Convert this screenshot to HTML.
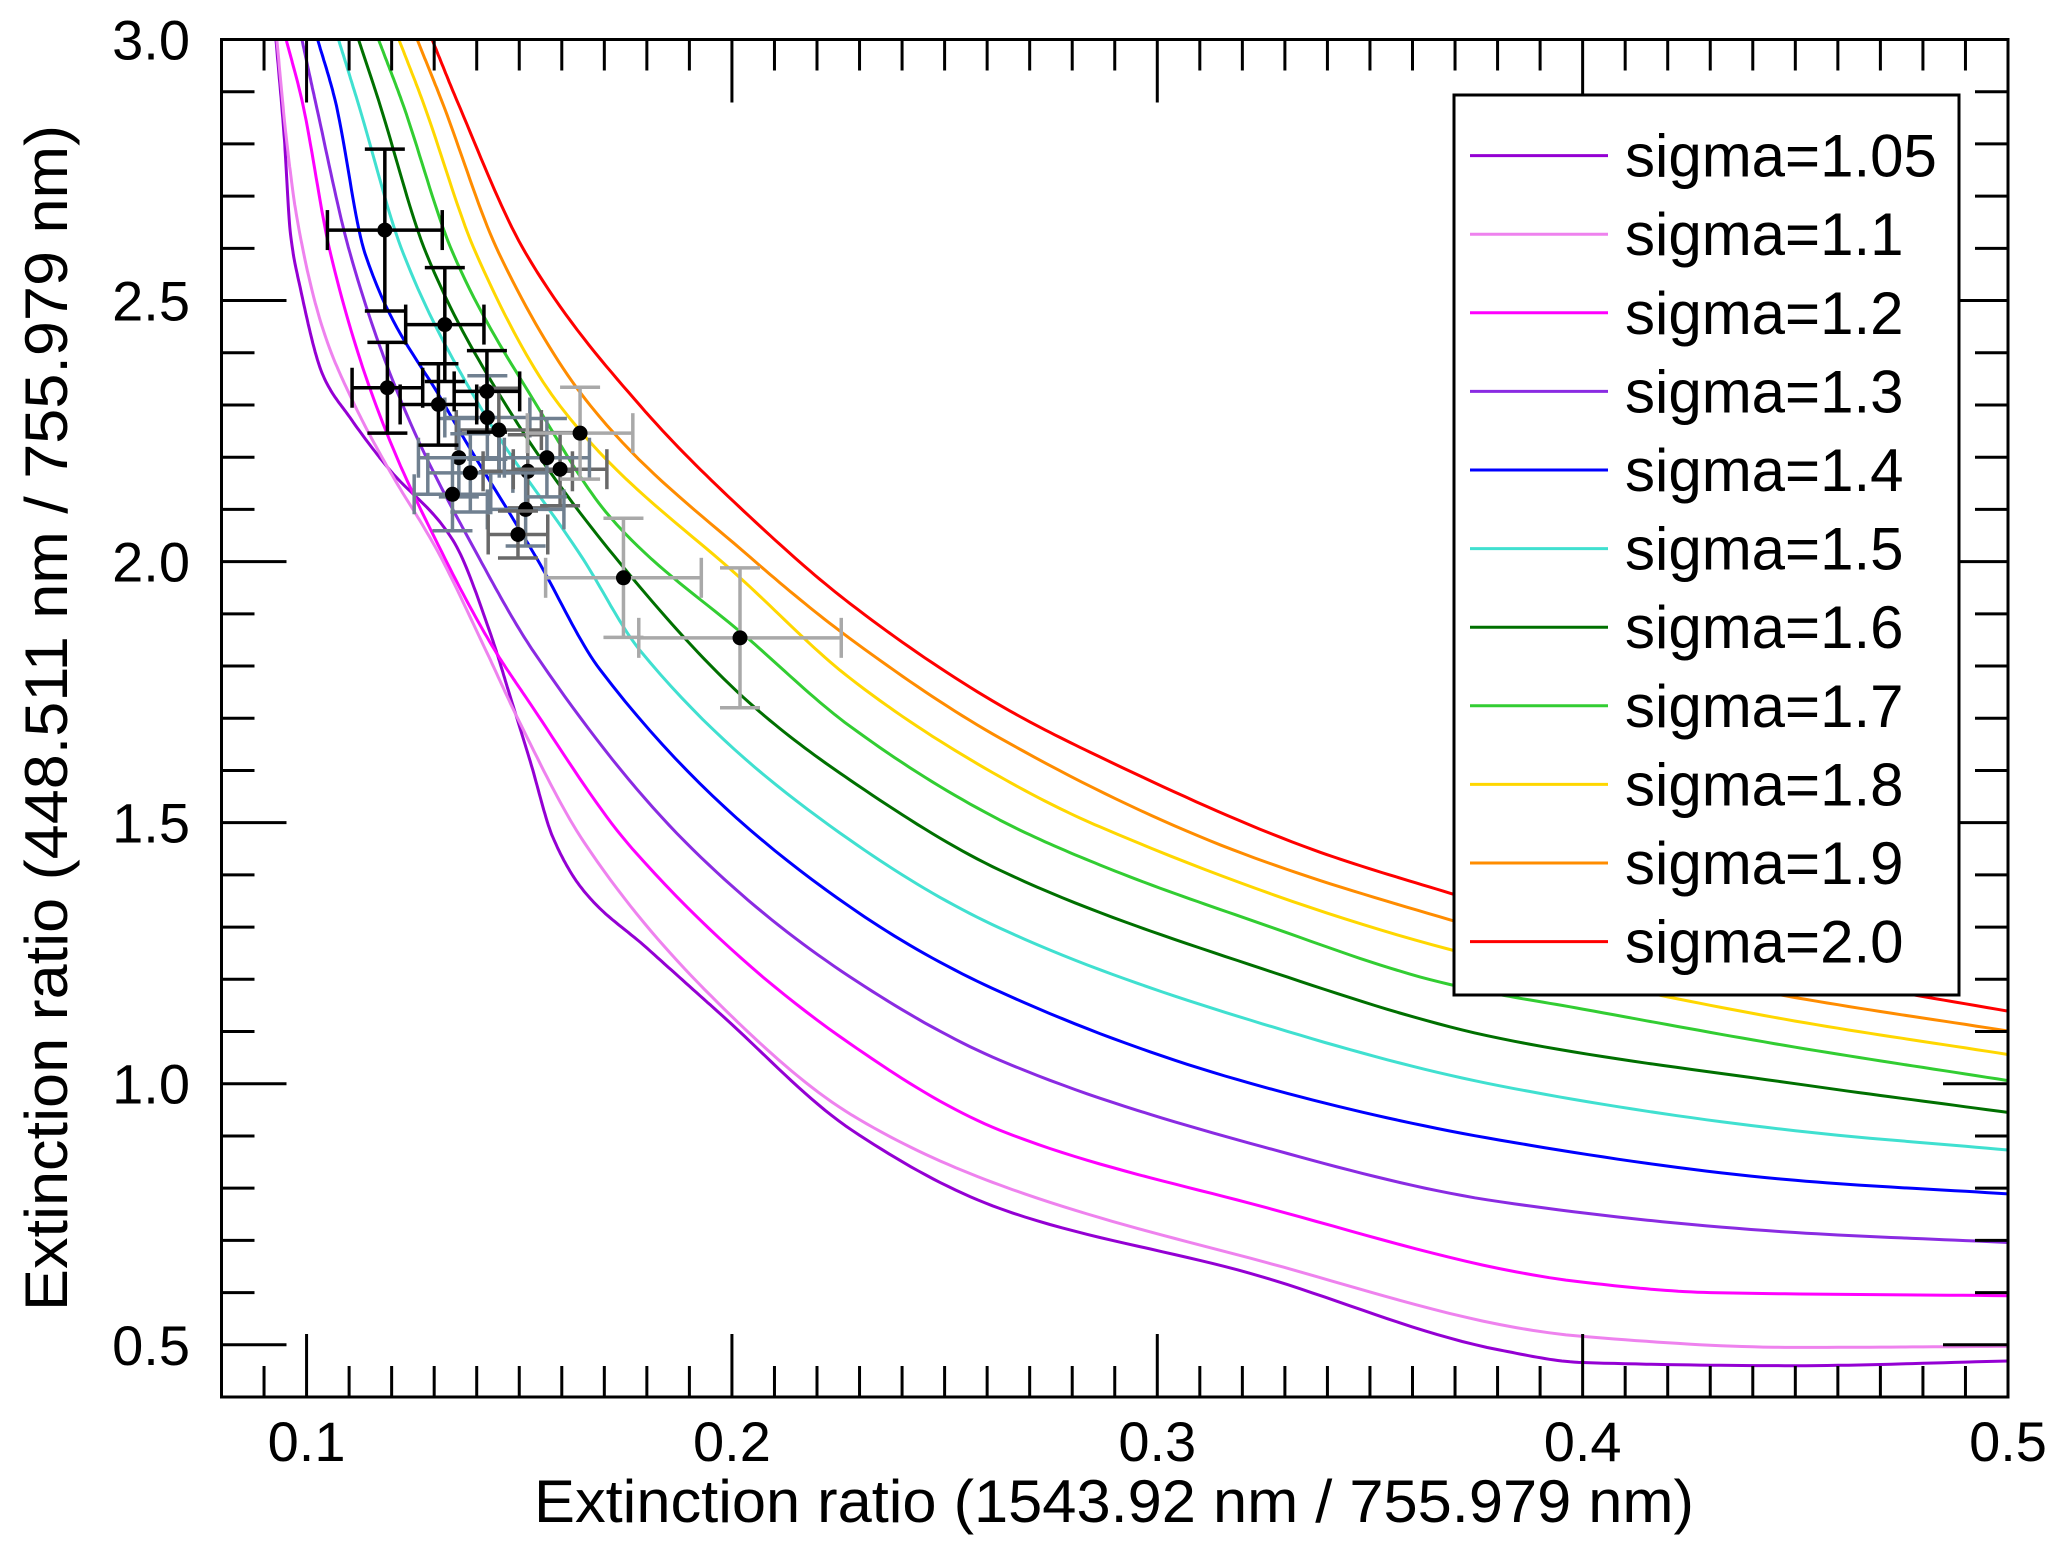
<!DOCTYPE html>
<html><head><meta charset="utf-8"><style>
html,body{margin:0;padding:0;background:#fff;}
svg{display:block;font-family:"Liberation Sans",Arial,sans-serif;}
</style></head><body>
<svg id="chart" width="2067" height="1554" viewBox="0 0 2067 1554" xmlns="http://www.w3.org/2000/svg">
<defs><clipPath id="plotclip"><rect x="221.5" y="39.5" width="1786.5" height="1357.5"/></clipPath></defs>
<rect x="0" y="0" width="2067" height="1554" fill="#fff"/>
<g id="curves" clip-path="url(#plotclip)"></g>
<g id="points"></g>
<g id="axes"></g>
<rect x="221.5" y="39.5" width="1786.5" height="1357.5" fill="none" stroke="#000" stroke-width="3"/>
<text x="1114" y="1522" font-size="60" text-anchor="middle" textLength="1160" lengthAdjust="spacingAndGlyphs">Extinction ratio (1543.92 nm / 755.979 nm)</text>
<text transform="translate(67,718) rotate(-90)" font-size="60" text-anchor="middle" textLength="1186" lengthAdjust="spacingAndGlyphs">Extinction ratio (448.511 nm / 755.979 nm)</text>
<g id="legend"></g>
</svg>
<script>
const NS="http://www.w3.org/2000/svg";
const xMin=0.08,xMax=0.5,yMin=0.4,yMax=3.0;
const L=221.5,R=2008,T=39.5,B=1397;
function sx(v){return L+(v-xMin)/(xMax-xMin)*(R-L);}
function sy(v){return B-(v-yMin)/(yMax-yMin)*(B-T);}

const sigmaLabels=["sigma=1.05","sigma=1.1","sigma=1.2","sigma=1.3","sigma=1.4","sigma=1.5","sigma=1.6","sigma=1.7","sigma=1.8","sigma=1.9","sigma=2.0"];
const sigmaColors=["#9400D3","#EE82EE","#FF00FF","#8A2BE2","#0000FF","#40E0D0","#007000","#32CD32","#FFD700","#FF8C00","#FF0000"];
const curve105=[[0.0928,3.0],[0.0948,2.807],[0.0962,2.629],[0.0985,2.525],[0.1039,2.356],[0.1102,2.276],[0.1191,2.18],[0.1344,2.041],[0.1434,1.858],[0.1479,1.741],[0.1526,1.617],[0.1579,1.472],[0.1652,1.369],[0.18,1.26],[0.1967,1.138],[0.2282,0.911],[0.263,0.761],[0.3218,0.637],[0.3805,0.49],[0.40,0.466],[0.45,0.46],[0.5,0.469]];
const curve11=[[0.093,3.0],[0.0953,2.807],[0.0977,2.66],[0.1039,2.444],[0.111,2.305],[0.1191,2.18],[0.1308,2.02],[0.1421,1.831],[0.1495,1.702],[0.1652,1.463],[0.1967,1.155],[0.2282,0.94],[0.263,0.806],[0.3218,0.666],[0.40,0.516],[0.45,0.495],[0.5,0.497]];
const curve12=[[0.0952,3.0],[0.0989,2.884],[0.1056,2.591],[0.1164,2.298],[0.1326,2.005],[0.1442,1.831],[0.1515,1.741],[0.1768,1.448],[0.2277,1.077],[0.263,0.911],[0.3218,0.771],[0.40,0.62],[0.43,0.60],[0.5,0.594]];
const curve13=[[0.0989,3.0],[0.102,2.884],[0.1102,2.591],[0.1227,2.298],[0.1407,2.005],[0.1531,1.831],[0.1909,1.448],[0.2277,1.205],[0.263,1.045],[0.3218,0.886],[0.3805,0.774],[0.45,0.715],[0.5,0.696]];
const curve14=[[0.1026,3.0],[0.1067,2.884],[0.1137,2.591],[0.1326,2.298],[0.1542,2.005],[0.169,1.793],[0.2277,1.339],[0.263,1.176],[0.3218,1.001],[0.3805,0.892],[0.45,0.815],[0.5,0.789]];
const curve15=[[0.1075,3.0],[0.1119,2.884],[0.1227,2.591],[0.1407,2.298],[0.165,2.005],[0.1783,1.831],[0.2277,1.467],[0.263,1.298],[0.3218,1.122],[0.3805,0.996],[0.45,0.91],[0.5,0.873]];
const curve16=[[0.1122,3.0],[0.1169,2.884],[0.1281,2.591],[0.147,2.298],[0.1737,1.997],[0.2042,1.729],[0.2277,1.582],[0.263,1.409],[0.3218,1.228],[0.3805,1.087],[0.45,1.0],[0.5,0.945]];
const curve17=[[0.1169,3.0],[0.1223,2.884],[0.1344,2.591],[0.1542,2.298],[0.1713,2.086],[0.2042,1.85],[0.2277,1.685],[0.263,1.505],[0.2865,1.419],[0.3218,1.314],[0.3688,1.19],[0.40,1.143],[0.45,1.07],[0.5,1.006]];
const curve18=[[0.1217,3.0],[0.1272,2.884],[0.1398,2.591],[0.1596,2.298],[0.2042,1.952],[0.2277,1.777],[0.263,1.588],[0.2865,1.492],[0.3688,1.257],[0.40,1.2],[0.45,1.12],[0.5,1.056]];
const curve19=[[0.126,3.0],[0.1317,2.884],[0.1452,2.591],[0.1668,2.298],[0.2042,2.009],[0.2277,1.853],[0.263,1.662],[0.3178,1.448],[0.3688,1.314],[0.40,1.245],[0.45,1.165],[0.5,1.101]];
const curve20=[[0.1295,3.0],[0.1353,2.884],[0.1515,2.591],[0.1785,2.298],[0.2042,2.086],[0.2277,1.92],[0.263,1.725],[0.2865,1.626],[0.3367,1.448],[0.3688,1.365],[0.40,1.29],[0.45,1.21],[0.5,1.139]];
const curves=[curve105,curve11,curve12,curve13,curve14,curve15,curve16,curve17,curve18,curve19,curve20];

const ptX=[0.1184,0.1325,0.1190,0.1424,0.1310,0.1643,0.1745,0.2019,0.1425,0.1452,0.1358,0.1385,0.1520,0.1596,0.1565,0.1343,0.1515,0.1497];
const ptY=[2.635,2.454,2.333,2.326,2.301,2.246,1.969,1.854,2.276,2.252,2.199,2.170,2.173,2.177,2.199,2.129,2.100,2.052];
const ptXerr=[0.0135,0.0092,0.0083,0.0077,0.0090,0.0124,0.0183,0.0238,0.0100,0.0100,0.0095,0.0100,0.0105,0.0110,0.0100,0.0090,0.0090,0.0070];
const ptYerr=[0.155,0.109,0.087,0.078,0.078,0.088,0.114,0.134,0.080,0.080,0.075,0.075,0.070,0.070,0.075,0.070,0.070,0.045];
const ptColor=["#000","#000","#000","#000","#000","#a9a9a9","#a9a9a9","#a9a9a9","#708090","#696969","#708090","#708090","#696969","#696969","#708090","#708090","#708090","#696969"];

function monoPath(c){
  const n=c.length,xs=c.map(p=>p[0]),ys=c.map(p=>p[1]);
  const d=[],m=new Array(n);
  for(let i=0;i<n-1;i++)d.push((ys[i+1]-ys[i])/(xs[i+1]-xs[i]));
  m[0]=d[0];m[n-1]=d[n-2];
  for(let i=1;i<n-1;i++){
    if(d[i-1]*d[i]<=0)m[i]=0;
    else{const w1=2*(xs[i+1]-xs[i])+(xs[i]-xs[i-1]),w2=(xs[i+1]-xs[i])+2*(xs[i]-xs[i-1]);m[i]=(w1+w2)/(w1/d[i-1]+w2/d[i]);}
  }
  let s="M"+sx(xs[0]-0.001).toFixed(1)+","+sy(ys[0]-m[0]*0.001).toFixed(1);
  for(let i=0;i<n-1;i++){
    const h=xs[i+1]-xs[i],steps=20;
    for(let k=0;k<=steps;k++){
      const t=k/steps,t2=t*t,t3=t2*t;
      const y=(2*t3-3*t2+1)*ys[i]+(t3-2*t2+t)*h*m[i]+(-2*t3+3*t2)*ys[i+1]+(t3-t2)*h*m[i+1];
      s+="L"+sx(xs[i]+t*h).toFixed(1)+","+sy(y).toFixed(1);
    }
  }
  return s;
}
function mk(tag,attrs,parent){const e=document.createElementNS(NS,tag);for(const k in attrs)e.setAttribute(k,attrs[k]);parent.appendChild(e);return e;}

const cg=document.getElementById("curves");
curves.forEach((c,i)=>{
  const p=mk("path",{d:monoPath(c),fill:"none",stroke:sigmaColors[i],"stroke-width":3,"stroke-linejoin":"round"},cg);
  
  
});

const pg=document.getElementById("points");
const order=[8,9,10,11,12,13,14,15,16,17,5,6,7,0,1,2,3,4];
order.forEach(i=>{
  const g=mk("g",{stroke:ptColor[i],"stroke-width":3.5},pg);
  
  
  const x=sx(ptX[i]),y=sy(ptY[i]);
  const x0=sx(ptX[i]-ptXerr[i]),x1=sx(ptX[i]+ptXerr[i]);
  const y0=sy(ptY[i]+ptYerr[i]),y1=sy(ptY[i]-ptYerr[i]);
  const c=20;
  mk("line",{x1:x0,y1:y,x2:x1,y2:y},g);
  mk("line",{x1:x,y1:y0,x2:x,y2:y1},g);
  mk("line",{x1:x0,y1:y-c,x2:x0,y2:y+c},g);
  mk("line",{x1:x1,y1:y-c,x2:x1,y2:y+c},g);
  mk("line",{x1:x-c,y1:y0,x2:x+c,y2:y0},g);
  mk("line",{x1:x-c,y1:y1,x2:x+c,y2:y1},g);
  mk("circle",{cx:x,cy:y,r:7.5,fill:"#000",stroke:"none"},g);
});

const ag=document.getElementById("axes");
for(let k=9;k<=50;k++){
  const v=k/100,x=sx(v),major=(k%10===0),len=major?63:31;
  const t1=mk("line",{x1:x,y1:B,x2:x,y2:B-len,stroke:"#000","stroke-width":3},ag);
  
  
  const t2=mk("line",{x1:x,y1:T,x2:x,y2:T+len,stroke:"#000","stroke-width":3},ag);
  
  
  if(major){
    const tx=mk("text",{x:x,y:1461,"font-size":56,"text-anchor":"middle"},ag);
    tx.textContent=v.toFixed(1);
    
    
  }
}
for(let k=5;k<=30;k++){
  const v=k/10,y=sy(v),major=(k%5===0),len=major?65:33;
  const t1=mk("line",{x1:L,y1:y,x2:L+len,y2:y,stroke:"#000","stroke-width":3},ag);
  
  
  const t2=mk("line",{x1:R,y1:y,x2:R-len,y2:y,stroke:"#000","stroke-width":3},ag);
  
  
  if(major){
    const ty=mk("text",{x:190,y:y+20,"font-size":56,"text-anchor":"end"},ag);
    ty.textContent=v.toFixed(1);
    
    
  }
}

const lg=document.getElementById("legend");
const box=mk("rect",{x:1454,y:95,width:505,height:900,fill:"#fff",stroke:"#000","stroke-width":3},lg);


sigmaLabels.forEach((s,i)=>{
  const cy=155.6+i*78.6;
  const g=mk("g",{},lg);
  
  
  mk("line",{x1:1470,y1:cy,x2:1608,y2:cy,stroke:sigmaColors[i],"stroke-width":3},g);
  const t=mk("text",{x:1625,y:cy+21,"font-size":60},g);
  t.textContent=s;
});
</script>
</body></html>
